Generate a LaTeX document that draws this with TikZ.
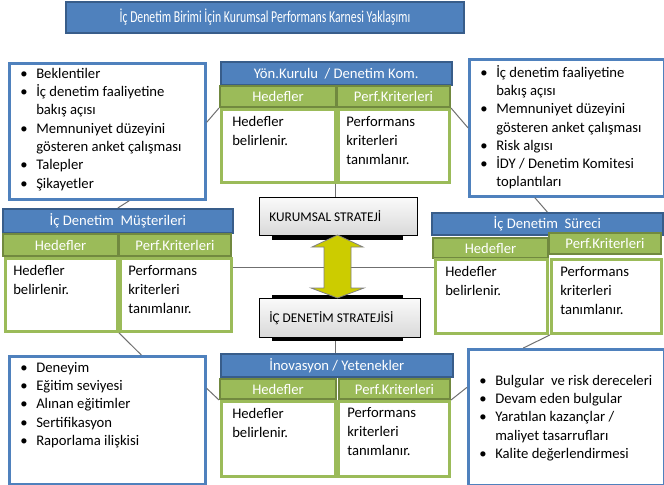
\documentclass[tikz,border=0pt]{standalone}
\usepackage{fontspec}
\setmainfont{Carlito}
\usepackage{graphicx}
\usetikzlibrary{calc}

\definecolor{hblue}{HTML}{4F81BD}
\definecolor{hblueline}{HTML}{385D8A}
\definecolor{hgreen}{HTML}{9BBB59}
\definecolor{hgreenline}{HTML}{71893F}
\definecolor{linegray}{HTML}{6F6F6F}
\definecolor{arrowyellow}{HTML}{CCCC00}

\newcommand{\blt}{\makebox[12pt][l]{\textbullet}}
\newcommand{\hng}{\hspace*{12pt}}

\tikzset{
  dims/.style 2 args={minimum width=#1*0.75pt, minimum height=#2*0.75pt},
  head/.style={draw=hblueline, fill=hblue, line width=1.2pt, text=white, inner sep=0pt, anchor=north west, font=\fontsize{11}{13}\selectfont},
  colhead/.style={draw=hgreenline, fill=hgreen, line width=1.5pt, text=white, inner sep=0pt, anchor=north west, font=\fontsize{11}{13}\selectfont},
  cell/.style={draw=hgreen, fill=white, line width=2.2pt, inner sep=0pt, anchor=north west},
  celltext/.style={anchor=north west, align=left, inner sep=0pt, font=\fontsize{11}{14.2}\selectfont},
  listbox/.style={draw=hblue, fill=white, line width=2pt, inner sep=0pt, anchor=north west},
  listtext/.style={anchor=north west, align=left, inner sep=0pt, font=\fontsize{11}{13.7}\selectfont},
  strat/.style={draw=black, line width=0.8pt, top color=gray!4, bottom color=gray!30, inner sep=0pt, anchor=north west},
  strattext/.style={anchor=west, inner sep=0pt, font=\fontsize{10}{12}\selectfont},
  conn/.style={draw=linegray, line width=0.75pt}
}

\begin{document}
\begin{tikzpicture}[x=0.75pt, y=-0.75pt]
\useasboundingbox (0,0) rectangle (664,485);

% title
\node[head, line width=1.5pt, dims={398}{31}, font=\fontsize{12.5}{14}\selectfont] (title) at (65,1)
  {\resizebox{218pt}{\height}{İç Denetim Birimi İçin Kurumsal Performans Karnesi Yaklaşımı}};

% top group
\node[head, dims={231}{23}] (yk-head) at (220,61) {Yön.Kurulu~ / Denetim Kom.};
\node[colhead, dims={116}{21}] (yk-hed) at (219,85) {Hedefler};
\node[colhead, dims={113}{21}] (yk-perf) at (336,85) {Perf.Kriterleri};
\node[cell, dims={114}{73}] (yk-hedw) at (220,108) {};
\node[cell, dims={111}{73}] (yk-perfw) at (337,108) {};
\node[celltext] at ([shift={(12,8)}]yk-hedw.north west) {Hedefler\\belirlenir.};
\node[celltext] at ([shift={(9,8)}]yk-perfw.north west) {Performans\\kriterleri\\tanımlanır.};

% left group
\node[head, dims={230}{24}] (mus-head) at (2,208) {İç Denetim~ Müşterileri};
\node[colhead, dims={115}{22}] (mus-hed) at (2,233) {Hedefler};
\node[colhead, dims={112}{22}] (mus-perf) at (118,233) {Perf.Kriterleri};
\node[cell, dims={112}{73}] (mus-hedw) at (4,257) {};
\node[cell, dims={111}{73}] (mus-perfw) at (119,257) {};
\node[celltext] at ([shift={(9,8)}]mus-hedw.north west) {Hedefler\\belirlenir.};
\node[celltext] at ([shift={(9,8)}]mus-perfw.north west) {Performans\\kriterleri\\tanımlanır.};

% right group
\node[head, dims={231}{22}] (sur-head) at (431,212) {İç Denetim~ Süreci};
\node[colhead, dims={115}{20}] (sur-hed) at (432,237) {Hedefler};
\node[colhead, dims={112}{21}] (sur-perf) at (548,232) {Perf.Kriterleri};
\node[cell, dims={112}{74}] (sur-hedw) at (434,258) {};
\node[cell, dims={110}{74}] (sur-perfw) at (550,258) {};
\node[celltext] at ([shift={(11,8)}]sur-hedw.north west) {Hedefler\\belirlenir.};
\node[celltext] at ([shift={(10,8)}]sur-perfw.north west) {Performans\\kriterleri\\tanımlanır.};

% bottom group
\node[head, dims={232}{23}] (ino-head) at (220,353) {İnovasyon / Yetenekler};
\node[colhead, dims={116}{20}] (ino-hed) at (219,378) {Hedefler};
\node[colhead, dims={111}{20}] (ino-perf) at (338,378) {Perf.Kriterleri};
\node[cell, dims={114}{75}] (ino-hedw) at (220,400) {};
\node[cell, dims={111}{75}] (ino-perfw) at (337,400) {};
\node[celltext] at ([shift={(12,8)}]ino-hedw.north west) {Hedefler\\belirlenir.};
\node[celltext] at ([shift={(10,7)}]ino-perfw.north west) {Performans\\kriterleri\\tanımlanır.};

% lists
\node[listbox, dims={196}{136}] (tl) at (8,62) {};
\node[listtext] at (20,68) {\blt Beklentiler\\\blt İç denetim faaliyetine\\\hng bakış açısı\\\blt Memnuniyet düzeyini\\\hng gösteren anket çalışması\\\blt Talepler\\\blt Şikayetler};
\node[listbox, dims={195}{137}] (tr) at (468,58) {};
\node[listtext] at (480,65) {\blt İç denetim faaliyetine\\\hng bakış açısı\\\blt Memnuniyet düzeyini\\\hng gösteren anket çalışması\\\blt Risk algısı\\\blt İDY / Denetim Komitesi\\\hng toplantıları};
\node[listbox, dims={196}{128}] (bl) at (8,355) {};
\node[listtext] at (20,362) {\blt Deneyim\\\blt Eğitim seviyesi\\\blt Alınan eğitimler\\\blt Sertifikasyon\\\blt Raporlama ilişkisi};
\node[listbox, dims={196}{136}] (br) at (467,348) {};
\node[listtext] at (479,375) {\blt Bulgular~ ve risk dereceleri\\\blt Devam eden bulgular\\\blt Yaratılan kazançlar /\\\hng maliyet tasarrufları\\\blt Kalite değerlendirmesi};

% connectors
\draw[conn] ($(tl.east)+(0,-9)$) -- (yk-hed.south west);
\draw[conn] (yk-perf.south east) -- (tr.west);
\draw[conn] ($(tl.south)+(22,0)$) -- (mus-head.north);
\draw[conn] ($(tr.south)+(-32,0)$) -- (sur-head.north);
\draw[conn] (mus-perfw.south west) -- ($(bl.north)+(34,0)$);
\draw[conn] ($(bl.east)+(0,-32)$) -- (ino-hed.south west);
\draw[conn] (ino-perf.south east) -- ($(br.west)+(0,-30)$);
\draw[conn] (sur-perfw.south west) -- ($(br.north)+(-43,0)$);
\coordinate (mid) at (335,267);
\draw[conn] (mid |- yk-hedw.south) -- (mid |- ino-head.north);
\draw[conn] (mid -| mus-perfw.east) -- (mid -| sur-hedw.west);

% strategies
\fill[black] (272,200) rectangle (403,240);
\fill[black] (272,295) rectangle (403,341);
\node[strat, dims={158}{38}] (kur) at (259,197) {};
\node[strattext] at ([xshift=10*0.75pt]kur.west) {KURUMSAL STRATEJİ};
\node[strat, dims={161}{39}] (ic) at (259,298) {};
\node[strattext] at ([xshift=10*0.75pt]ic.west) {İÇ DENETİM STRATEJİSİ};
\draw[fill=arrowyellow, draw=gray, line width=0.6pt] (337.5,235) -- (363,247) -- (351,247) -- (351,288) -- (364,288) -- (337.5,298)
  -- (311,288) -- (324,288) -- (324,247) -- (312,247) -- cycle;
\end{tikzpicture}
\end{document}
